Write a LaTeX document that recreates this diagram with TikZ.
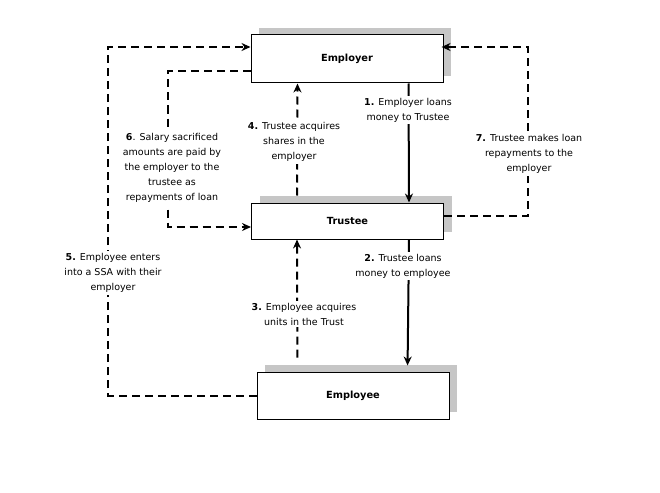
\documentclass[tikz,border=0pt]{standalone}
\usepackage{fontspec}
\setmainfont{DejaVu Sans}
\usetikzlibrary{arrows.meta,shadows,calc}
\begin{document}
\begin{tikzpicture}[x=1pt,y=-1pt,
  box/.style={draw=black,line width=1pt,fill=white,minimum width=192pt,inner sep=0pt,
    font=\fontsize{9.8}{12}\selectfont\bfseries,
    general shadow={shadow xshift=8pt,shadow yshift=7pt,fill=gray!45}},
  conn/.style={line width=2pt,-{Stealth[length=9pt,width=8pt]}},
  dl/.style={conn,dash pattern=on 8pt off 5pt},
  lbl/.style={fill=white,align=center,inner sep=2pt,font=\fontsize{9.5}{15}\selectfont}]
\useasboundingbox (0,0) rectangle (660,492);
\node[box,minimum height=48pt] (employer) at (347,59) {Employer};
\node[box,minimum height=36pt] (trustee) at (347.5,221) {Trustee};
\node[box,minimum height=47pt] (employee) at (353,395.5) {Employee};
% 1
\draw[conn] ($(employer.south east)+(-35,0)$) -- ($(trustee.north east)+(-35,0)$);
% 2
\draw[conn,shorten >=6pt] ($(trustee.south east)+(-35,0)$) -- ($(employee.north west)+(151,0)$);
% 3
\draw[dl,shorten <=14pt] ($(employee.north west)+(41,0)$) -- ($(trustee.south west)+(46,0)$);
% 4
\draw[dl] ($(trustee.north west)+(46,-7)$) -- ($(employer.south west)+(47,0)$);
% 5
\coordinate (c5) at (108,47);
\draw[dl] (employee.west) -| (c5) -- ($(employer.west)+(0,-12)$);
% 6
\coordinate (c6) at (168,227);
\draw[dl] ($(employer.west)+(0,12)$) -| (c6) -- ($(trustee.west)+(0,6)$);
% 7
\coordinate (c7) at (528,47);
\draw[dl,shorten >=-2pt] ($(trustee.east)+(0,-5)$) -| (c7) -- ($(employer.east)+(0,-12)$);
% labels
\node[lbl] (l1) at (408,110) {\textbf{1.} Employer loans\\money to Trustee};
\node[lbl] (l2) at (403,266) {\textbf{2.} Trustee loans\\money to employee};
\node[lbl] (l3) at (304,314) {\textbf{3.} Employee acquires\\units in the Trust};
\node[lbl] (l4) at (294,142) {\textbf{4.} Trustee acquires\\shares in the\\employer};
\node[lbl] (l5) at (113,273) {\textbf{5.} Employee enters\\into a SSA with their\\employer};
\node[lbl] (l6) at (172,168) {\textbf{6}. Salary sacrificed\\amounts are paid by\\the employer to the\\trustee as\\repayments of loan};
\node[lbl] (l7) at (529,154) {\textbf{7.} Trustee makes loan\\repayments to the\\employer};
\end{tikzpicture}
\end{document}
